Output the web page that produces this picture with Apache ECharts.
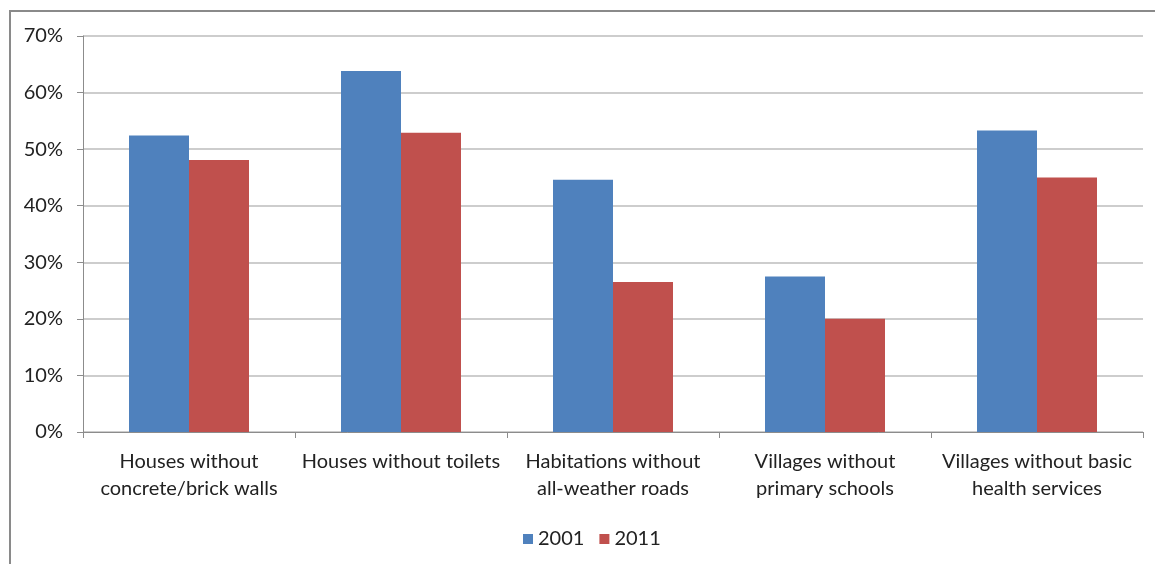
<!DOCTYPE html>
<html>
<head>
<meta charset="utf-8">
<script src="https://cdn.jsdelivr.net/npm/echarts@6/dist/echarts.min.js"></script>
<style>
  html, body { margin: 0; padding: 0; background: #fff; }
  #chart { width: 1155px; height: 564px; }
</style>
</head>
<body>
<div id="chart"></div>
<script>
// Category labels (line breaks as set on the axis)
const categories = [
  'Houses without\nconcrete/brick walls',
  'Houses without toilets',
  'Habitations without\nall-weather roads',
  'Villages without\nprimary schools',
  'Villages without basic\nhealth services'
];
const seriesNames = ['2001', '2011'];
// Shares in percent
const values2001 = [52.4, 63.8, 44.6, 27.5, 53.3];
const values2011 = [48.1, 52.9, 26.5, 20.0, 45.0];
const yTicks = [0, 10, 20, 30, 40, 50, 60, 70];

const FONT = 'Lato, "Open Sans", sans-serif';
const chart = echarts.init(document.getElementById('chart'), null, { renderer: 'canvas' });

chart.setOption({
  animation: false,
  backgroundColor: '#ffffff',
  graphic: [{
    type: 'rect',
    shape: { x: 10, y: 11, width: 1300, height: 700 },
    style: { fill: 'none', stroke: '#8a8a8a', lineWidth: 2 },
    silent: true,
    z: 100
  }],
  grid: { left: 83, right: 12, top: 36, bottom: 132, containLabel: false },
  legend: {
    data: seriesNames,
    top: 524,
    left: 518,
    itemWidth: 10,
    itemHeight: 10,
    itemGap: 15,
    icon: 'rect',
    textStyle: { fontFamily: FONT, fontSize: 20, color: '#222' }
  },
  xAxis: {
    type: 'category',
    data: categories,
    axisLine: { show: true, lineStyle: { color: '#8c8c8c', width: 1 } },
    axisTick: { show: true, length: 6, alignWithLabel: false, lineStyle: { color: '#8c8c8c' } },
    axisLabel: {
      interval: 0,
      margin: 16,
      fontFamily: FONT,
      fontSize: 20,
      lineHeight: 27,
      color: '#222'
    }
  },
  yAxis: {
    type: 'value',
    min: yTicks[0],
    max: yTicks[yTicks.length - 1],
    interval: 10,
    axisLine: { show: true, lineStyle: { color: '#8c8c8c', width: 1 } },
    axisTick: { show: true, length: 6, lineStyle: { color: '#8c8c8c' } },
    splitLine: { show: true, lineStyle: { color: '#bdbdbd', width: 1.5 } },
    axisLabel: {
      margin: 20,
      fontFamily: FONT,
      fontSize: 20,
      color: '#222',
      formatter: v => v + '%'
    }
  },
  series: [
    {
      name: seriesNames[0],
      type: 'bar',
      data: values2001,
      barWidth: 60,
      barGap: '0%',
      itemStyle: { color: '#4f81bd' }
    },
    {
      name: seriesNames[1],
      type: 'bar',
      data: values2011,
      barWidth: 60,
      barGap: '0%',
      itemStyle: { color: '#c0504d' }
    }
  ]
});
</script>
</body>
</html>
